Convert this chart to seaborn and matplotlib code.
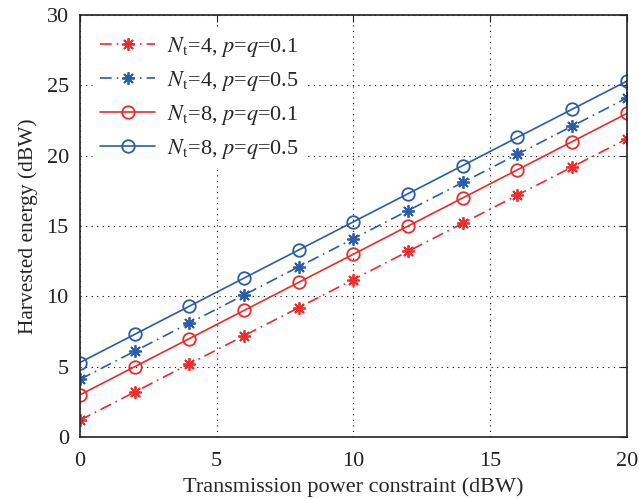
import numpy as np
import pandas as pd
import matplotlib
matplotlib.use('Agg')
import matplotlib.pyplot as plt
import seaborn as sns

power = [0, 2, 4, 6, 8, 10, 12, 14, 16, 18, 20]
nt4_p01 = [1.2, 3.2, 5.2, 7.2, 9.2, 11.2, 13.2, 15.2, 17.2, 19.2, 21.2]
nt4_p05 = [4.1, 6.1, 8.1, 10.1, 12.1, 14.1, 16.1, 18.1, 20.1, 22.1, 24.1]
nt8_p01 = [3.0, 5.0, 7.0, 9.0, 11.0, 13.0, 15.0, 17.0, 19.0, 21.0, 23.0]
nt8_p05 = [5.3, 7.3, 9.3, 11.3, 13.3, 15.3, 17.3, 19.3, 21.3, 23.3, 25.3]

labels = [r'$N_\mathrm{t}$=4, $p$=$q$=0.1', r'$N_\mathrm{t}$=4, $p$=$q$=0.5',
          r'$N_\mathrm{t}$=8, $p$=$q$=0.1', r'$N_\mathrm{t}$=8, $p$=$q$=0.5']

sns.set_style('white')
plt.rcParams['font.family'] = 'serif'
plt.rcParams['font.serif'] = ['Liberation Serif', 'DejaVu Serif']
plt.rcParams['mathtext.fontset'] = 'stix'

red = '#ec2b2b'
blue = '#2a5caa'
star = (8, 2, 0)
styles = [(nt4_p01, red, (0, (7, 3, 1, 3)), star),
          (nt4_p05, blue, (0, (7, 3, 1, 3)), star),
          (nt8_p01, red, '-', 'o'),
          (nt8_p05, blue, '-', 'o')]

fig = plt.figure(figsize=(6.39, 4.99), dpi=100)
ax = fig.add_axes([0.125, 0.124, 0.856, 0.846])

for (vals, c, ls, m), lab in zip(styles, labels):
    df = pd.DataFrame({'x': power, 'y': vals})
    sns.lineplot(data=df, x='x', y='y', ax=ax, color=c, linestyle=ls, marker=m,
                 markersize=9, markerfacecolor='none',
                 markeredgecolor=c, markeredgewidth=1.3, linewidth=1.2, label=lab)

ax.set_xlim(0, 20)
ax.set_ylim(0, 30)
ax.set_xticks([0, 5, 10, 15, 20])
ax.set_yticks(range(0, 31, 5))
ax.grid(True, color='black', linestyle=(0, (1, 4)), linewidth=0.8)
for s in ax.spines.values():
    s.set_color('#222222')
    s.set_linewidth(1.2)
ax.tick_params(direction='in', length=5, labelsize=16, colors='#222222', top=True, right=True,
               pad=8)
ax.tick_params(axis='x', pad=11)
ax.set_xlabel('Transmission power constraint (dBW)', fontsize=16, labelpad=4)
ax.set_ylabel('Harvested energy (dBW)', fontsize=15.5, labelpad=6)
leg = ax.legend(loc='upper left', fontsize=16, frameon=True, fancybox=False, edgecolor='white',
                facecolor='white', framealpha=1, handlelength=2.5, labelspacing=0.45,
                borderaxespad=0.6, handletextpad=0.5, borderpad=0.3)

fig.savefig('out.png', dpi=100)
